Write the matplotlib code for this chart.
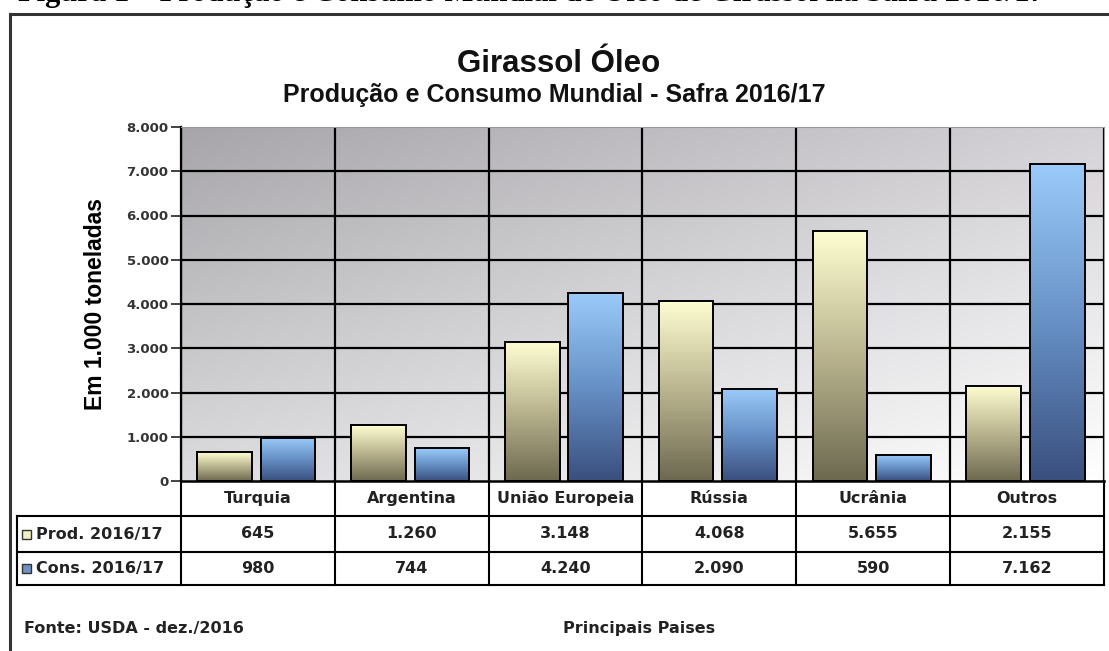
import numpy as np
import matplotlib
matplotlib.use('Agg')
import matplotlib.pyplot as plt
from matplotlib import transforms
from matplotlib.colors import LinearSegmentedColormap, to_rgb
from matplotlib.patches import Rectangle

# dados: USDA, dez/2016, em 1.000 toneladas
paises = ['Turquia', 'Argentina', 'União Europeia', 'Rússia', 'Ucrânia', 'Outros']
producao = [645, 1260, 3148, 4068, 5655, 2155]
consumo = [980, 744, 4240, 2090, 590, 7162]
rotulos_series = ['Prod. 2016/17', 'Cons. 2016/17']
ticks_y = [0, 1000, 2000, 3000, 4000, 5000, 6000, 7000, 8000]


def fmt_br(v):
    return f'{v:,}'.replace(',', '.')


def gradiente_barra(ax, barra, cores):
    # preenche a barra com degradê vertical (de baixo para cima)
    x0, y0 = barra.get_xy()
    w, h = barra.get_width(), barra.get_height()
    cmap = LinearSegmentedColormap.from_list('g', cores)
    grad = np.linspace(0, 1, 256).reshape(-1, 1)
    im = ax.imshow(grad, cmap=cmap, extent=[x0, x0 + w, y0, y0 + h],
                   origin='lower', aspect='auto', zorder=2, interpolation='bilinear')
    im.set_clip_path(barra)


W, H = 1109, 651
fig = plt.figure(figsize=(W / 100, H / 100), dpi=100)
fig.patch.set_facecolor('white')

# eixo auxiliar em pixels para moldura, tabela e textos
over = fig.add_axes([0, 0, 1, 1])
over.set_xlim(0, W)
over.set_ylim(H, 0)
over.axis('off')
over.set_zorder(0)

# eixo do gráfico
px_l, px_r, px_t, px_b = 181, 1104, 127, 481
ax = fig.add_axes([px_l / W, (H - px_b) / H, (px_r - px_l) / W, (px_b - px_t) / H])
ax.set_zorder(1)
ax.patch.set_alpha(0)

n = len(paises)
xs = np.arange(n)

# fundo em degradê diagonal
ny, nx = 200, 400
u = np.linspace(0, 1, nx)[None, :]
v = np.linspace(0, 1, ny)[:, None]
c_tl = np.array(to_rgb('#a7a5a9'))
c_tr = np.array(to_rgb('#d4d2d6'))
c_bl = np.array(to_rgb('#dcdcde'))
c_br = np.array(to_rgb('#ffffff'))
img = ((1 - u) * (1 - v))[..., None] * c_tl + (u * (1 - v))[..., None] * c_tr \
    + ((1 - u) * v)[..., None] * c_bl + (u * v)[..., None] * c_br
ax.imshow(img, extent=[-0.5, n - 0.5, 0, 8000], origin='upper', aspect='auto',
          zorder=0, interpolation='bilinear')

# linhas de grade
for t in ticks_y[1:-1]:
    ax.axhline(t, color='black', lw=1.6, zorder=1)
for b in np.arange(-0.5, n, 1.0):
    ax.axvline(b, color='black', lw=1.6, zorder=1)

cores_prod = ['#6d6950', '#b9b48e', '#fffed2']
cores_cons = ['#3a4f7e', '#6690c6', '#9bcbfa']

barras_p = ax.bar(xs - 0.217, producao, width=0.355, facecolor='none',
                  edgecolor='black', lw=1.4, zorder=3)
barras_c = ax.bar(xs + 0.196, consumo, width=0.355, facecolor='none',
                  edgecolor='black', lw=1.4, zorder=3)
for b in barras_p:
    gradiente_barra(ax, b, cores_prod)
for b in barras_c:
    gradiente_barra(ax, b, cores_cons)

ax.set_xlim(-0.5, n - 0.5)
ax.set_ylim(0, 8000)
ax.set_xticks([])
ax.set_yticks(ticks_y)
ax.set_yticklabels([fmt_br(t) for t in ticks_y], fontsize=9.5, fontweight='bold',
                   color='#333333', family='DejaVu Sans')
ax.tick_params(axis='y', length=7, width=1.2, pad=2, color='#222222')
for s in ['top', 'right']:
    ax.spines[s].set_color('#999999')
    ax.spines[s].set_linewidth(0.8)
ax.spines['left'].set_linewidth(1.6)
ax.spines['bottom'].set_linewidth(1.8)

ax.set_ylabel('Em 1.000 toneladas', fontsize=16.5, fontweight='bold',
              family='Liberation Sans', labelpad=14)

# tabela de dados abaixo do gráfico
tr = transforms.blended_transform_factory(ax.transData, over.transData)
y_hdr, y_p, y_c, y_end = 481, 516, 552, 585
lw_t = 1.5
for b in np.arange(-0.5, n, 1.0):
    over.plot([b, b], [y_hdr, y_end], color='black', lw=lw_t, transform=tr, clip_on=False)
for yy in [y_p, y_c, y_end]:
    over.plot([17, px_r], [yy, yy], color='black', lw=lw_t, clip_on=False)
over.plot([17, 17], [y_p, y_end], color='black', lw=lw_t, clip_on=False)

fonte_tab = dict(fontsize=11.5, fontweight='bold', family='DejaVu Sans', color='#222222',
                 ha='center', va='center')
for i, p in enumerate(paises):
    over.text(i, (y_hdr + y_p) / 2, p, transform=tr, **fonte_tab)
    over.text(i, (y_p + y_c) / 2, fmt_br(producao[i]), transform=tr, **fonte_tab)
    over.text(i, (y_c + y_end) / 2, fmt_br(consumo[i]), transform=tr, **fonte_tab)

for yy, rot, cor in [((y_p + y_c) / 2, rotulos_series[0], '#f2f0c0'),
                     ((y_c + y_end) / 2, rotulos_series[1], '#6e92c6')]:
    over.add_patch(Rectangle((22, yy - 4.5), 9, 9, facecolor=cor, edgecolor='#333333',
                             lw=1.0, clip_on=False))
    over.text(36, yy, rot, fontsize=11.5, fontweight='bold', family='DejaVu Sans',
              color='#222222', ha='left', va='center')

# moldura
over.plot([10, W], [14, 14], color='#333333', lw=2.2, clip_on=False)
over.plot([10, 10], [14, H], color='#333333', lw=2.2, clip_on=False)

# títulos
over.text(559, 64, 'Girassol Óleo', fontsize=22.5, fontweight='bold',
          family='Liberation Sans', ha='center', va='center', color='#111111')
over.text(554, 95, 'Produção e Consumo Mundial - Safra 2016/17', fontsize=18,
          fontweight='bold', family='Liberation Sans', ha='center', va='center',
          color='#111111')

# legenda da figura (cortada na borda superior)
over.text(18, 0.5, 'Figura 1 – Produção e Consumo Mundial de Óleo de Girassol na Safra 2016/17',
          fontsize=22, fontweight='bold', family='Liberation Serif', ha='left',
          va='baseline', color='black', clip_on=False)

# rodapé
over.text(24, 628, 'Fonte: USDA - dez./2016', fontsize=11.5, fontweight='bold',
          family='DejaVu Sans', color='#222222', ha='left', va='center')
over.text(639, 628, 'Principais Paises', fontsize=11.5, fontweight='bold',
          family='DejaVu Sans', color='#222222', ha='center', va='center')

fig.savefig('out.png', dpi=100)
